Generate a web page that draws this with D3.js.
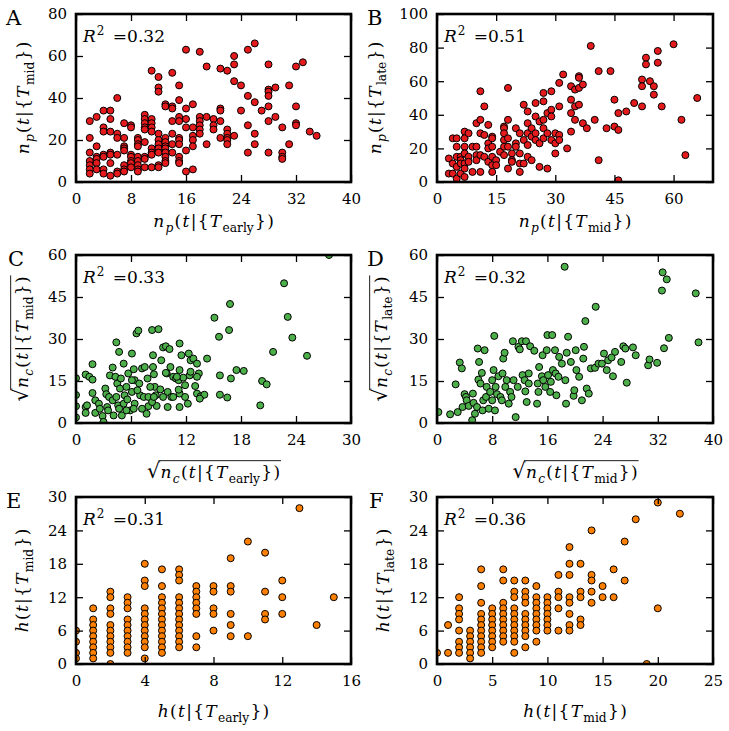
<!DOCTYPE html>
<html>
<head>
<meta charset="utf-8">
<style>
html, body { margin: 0; padding: 0; background: #fff; }
svg { display: block; }
text { font-family: "DejaVu Serif", serif; fill: #000; }
</style>
</head>
<body>
<svg width="729" height="731"></svg>
<script src="https://cdnjs.cloudflare.com/ajax/libs/d3/7.8.5/d3.min.js"></script>
<script>
// ---- data: [x, y] pairs ----
var ptsA = [
  [2,29],[2,21],[2,14],[2,10],[2,8],[2,6],[2,4],
  [3,31],[3,17],[3,12],[3,11],[3,9],[3,6],
  [4,34],[4,26],[4,24],[4,13],[4,12],[4,6],[4,4],
  [5,34],[5,30],[5,24],[5,14],[5,13],[5,9],[5,3],
  [6,40],[6,23],[6,21],[6,13],[6,5],[6,4],
  [7,28],[7,21],[7,17],[7,16],[7,15],[7,8],[7,6],[7,5],
  [8,27],[8,26],[8,13],[8,12],[8,10],[8,9],[8,7],
  [9,21],[9,20],[9,18],[9,17],[9,12],[9,10],[9,8],[9,6],[9,5],
  [10,32],[10,30],[10,28],[10,26],[10,25],[10,19],[10,12],[10,11],[10,7],
  [11,53],[11,30],[11,28],[11,26],[11,24],[11,16],[11,14],[11,13],[11,7],
  [12,50],[12,45],[12,43],[12,23],[12,20],[12,18],[12,16],[12,14],[12,8],[12,7],
  [13,37],[13,36],[13,21],[13,19],[13,17],[13,16],[13,14],[13,12],[13,10],[13,9],
  [14,52],[14,36],[14,35],[14,29],[14,23],[14,18],[14,14],
  [15,46],[15,39],[15,31],[15,29],[15,21],[15,20],[15,18],[15,12],[15,10],[15,9],
  [16,63],[16,35],[16,30],[16,26],[16,15],[16,5],
  [17,37],[17,26],[17,22],[17,20],[17,17],[17,6],
  [18,62],[18,31],[18,29],[18,27],[18,25],[18,23],
  [19,55],[19,31],[19,18],
  [20,30],[20,27],[20,25],
  [21,54],[21,35],[21,34],[21,29],[21,21],
  [22,53],[22,25],[22,23],[22,21],[22,20],[22,18],
  [23,60],[23,56],[23,48],[23,22],
  [24,46],[24,34],
  [25,63],[25,41],[25,27],[25,14],
  [26,66],[26,38],[26,23],[26,18],
  [27,34],
  [28,56],[28,44],[28,43],[28,41],[28,36],[28,29],[28,14],
  [29,45],[29,31],
  [30,26],[30,14],[30,12],[30,11],
  [31,46],[31,18],
  [32,55],[32,36],[32,28],[32,27],
  [33,57],[34,24],[35,22]
];

var ptsB = [
  [3,14],[3,5],[4,26],[4,11],[4,5],[5,26],[5,21],[5,15],[5,9],[5,2],
  [6,15],[6,13],[6,5],[6,11],[7,30],[7,26],[7,21],[7,17],[7,11],[7,8],[7,3],
  [8,29],[8,15],[8,12],[9,21],[9,6],[10,35],[10,21],[10,16],[10,13],
  [11,54],[11,37],[11,29],[11,16],[11,6],[12,45],[12,28],[12,15],
  [13,34],[13,23],[13,20],[13,12],[14,27],[14,26],[14,21],[14,15],[14,10],[14,6],
  [15,13],[15,10],[16,18],[17,33],[17,32],[17,29],[17,25],[17,21],[17,16],
  [18,56],[18,37],[18,26],[18,21],[18,8],[19,17],[19,13],[19,12],
  [20,32],[20,23],[20,21],[21,29],[21,17],[21,11],[21,6],
  [22,46],[22,25],[22,11],[23,42],[23,35],[23,29],[23,22],[23,15],
  [24,32],[24,27],[24,13],[25,47],[25,39],[25,29],[25,25],
  [26,36],[26,23],[26,9],[27,53],[27,48],[27,37],[27,32],[27,26],
  [28,41],[28,29],[28,8],[29,54],[29,43],[29,39],[29,25],
  [30,29],[30,23],[30,17],[31,59],[31,45],[31,28],[31,25],[32,64],[33,20],
  [34,57],[34,49],[34,41],[34,30],[35,55],[35,45],[35,37],
  [36,63],[36,62],[36,56],[36,46],[37,58],[37,35],[38,32],[39,81],[40,37],
  [41,66],[41,13],[43,32],[44,66],[45,49],[45,33],[46,31],[46,1],[46,41],
  [48,42],[50,47],[52,61],[52,57],[52,45],[53,74],[53,70],[54,60],
  [55,57],[55,52],[56,78],[56,71],[57,45],[60,82],[62,37],[63,16],[66,50]
];

var ptsC = [
  [0,16],[0,10],[0,6],[0,2],[1.05,17.3],[1.45,16.5],[1.8,21],[1.8,15.5],[1.05,5.7],[1.05,3.6],
  [1.8,10.7],[2.1,8.1],[2.1,3.6],[2.5,6.9],[2.9,2.5],[3,0.4],[3.2,12.3],[3.3,10.3],[3.4,5.7],
  [3.6,9.3],[3.7,17],[4,19.8],[4,8.1],[4.1,2.7],[4.3,16.5],[4.4,28.8],[4.5,14.1],[4.6,6.3],
  [4.7,25.4],[4.8,12.3],[4.9,15.9],[5,2.7],[5.2,21.2],[5.2,6.9],[5.3,9.9],[5.5,12.9],[5.7,17.7],
  [5.9,4.5],[6.1,24.8],[6.1,11.1],[6.3,19.2],[6.4,6.9],[6.4,15.3],[6.6,32],[6.8,33],[6.9,14.1],
  [7,9.9],[7.2,19.5],[7.4,9.3],[7.5,20],[7.7,3.3],[7.8,15.9],[7.9,6],[8.3,33.2],[8.4,24.2],
  [8.4,20],[8.5,17.4],[8.6,12.9],[8.7,9.9],[8.8,6.1],[9,33.5],[9.2,12],[9.3,22.4],[9.5,27],
  [9.8,27.4],[9.9,17.7],[10,11.1],[10,5.7],[10.2,26.4],[10.3,20],[10.4,9.3],[10.6,16.5],
  [10.9,15.9],[11.2,15.3],[11.3,28.4],[11.3,18.9],[11.3,10.5],[11.3,5.7],[11.5,24.2],[11.7,16.2],
  [11.9,9.3],[12.2,6.9],[12.3,24.8],[12.4,17],[12.5,22.4],[12.8,23],[13,13.2],[13.2,21.2],
  [13.2,10.5],[13.4,17.7],[13.6,9.5],[14,10.1],[14.3,23],[15.1,37.6],[15.6,30.8],[15.7,17],
  [15.7,10.1],[16.7,33.2],[16.8,42.5],[16.9,15.9],[16.5,9.1],[17.5,18.9],[18.3,18.6],[20.1,6.3],
  [20.3,15],[20.8,13.8],[21.5,25.4],[22.7,49.9],[23.1,37.9],[23.6,30.5],[25.2,24],[27.6,60],
  [1.2,6.3],[2.6,5.1],[3.5,4.5],[4.4,9.3],[4.7,5.1],[5.5,4.5],[5.6,8.4],[6.1,15.3],[6.3,5.1],
  [6.7,11.7],[7.2,5.1],[7.9,9.3],[8.1,12.9],[8.3,7.5],[8.5,9.3],[9.5,9.3],[9.8,17.9],[10.6,9.3],
  [11,16.5],[11.2,11.9],[11.9,13.5],[12.5,18.3],[13.5,8.7],[13.2,16.5]
];

var ptsD = [
  [0.2,3.9],[1.9,3.1],[2.7,13.8],[3,3.9],[3.3,21.6],[3.6,19.5],[3.7,5.7],[4,10.3],[4.2,9.3],
  [4.3,8.1],[4.6,6.1],[5.1,1],[5.2,10.5],[5.3,7.2],[5.5,3.3],[5.8,5.7],[5.9,26.6],[6,15.5],
  [6.1,21.8],[6.3,14.1],[6.5,17.9],[6.6,4.5],[6.7,8.1],[6.9,26],[7.1,9.3],[7.2,12.9],[7.5,5.1],
  [7.7,11.1],[8,15.3],[8,8.1],[8.2,18.9],[8.3,31.1],[8.4,4.5],[8.5,12.9],[8.7,10.3],[8.9,16.7],
  [9.2,9.3],[9.4,8.1],[9.5,17.7],[9.6,23],[9.8,25.1],[9.9,12.9],[10.1,15.3],[10.4,6.9],[10.6,11.1],
  [10.8,9.3],[11,29.2],[11.1,15.3],[11.4,2.1],[11.7,12.9],[11.8,27.2],[12,26.3],[12.3,29.2],
  [12.4,17.1],[12.7,15.3],[12.8,11.3],[12.9,29.2],[13,7.5],[13.3,17.7],[13.3,14.1],[13.5,27.4],
  [14.1,25.8],[14.5,6.9],[14.6,14.1],[14.7,11.1],[14.8,20],[15.2,16.7],[15.3,24.2],[15.4,15.3],
  [15.7,12.9],[15.9,26],[16,31.4],[16.1,17.1],[16.4,11.1],[16.5,14.7],[16.7,31.4],[16.8,18.9],
  [17.1,26],[17.2,17.7],[17.3,9.9],[17.6,16.5],[17.7,23.6],[18.1,21.2],[18.5,55.8],[18.6,15.3],
  [18.7,6.9],[18.8,25.1],[19,30.8],[19.4,21.8],[19.8,9.7],[19.9,11.7],[20.1,26],[20.2,18.9],
  [20.6,16.5],[21,8.1],[21.2,23],[21.3,27.2],[21.5,36.4],[21.7,12.3],[22,10.5],[22.3,19.5],
  [22.9,19.7],[23,41.5],[23.4,21.2],[23.9,21.2],[24.2,24.8],[24.6,18.9],[24.8,22.4],[25.3,23.4],
  [25.5,16.7],[25.8,25.4],[26.7,21.8],[27,27.4],[27.3,26.6],[27.5,14.4],[28.4,27],[28.8,24.2],
  [30.6,20.6],[30.8,22.7],[31.9,21.5],[32.6,47.3],[32.7,53.8],[32.9,26.7],[33.3,51.3],[33.6,30.4],
  [37.5,46.3],[37.9,28.8]
];

var ptsE = [
  [0,6],[0,4],[0,2],[0,1],
  [1,10],[1,8],[1,7],[1,6],[1,5],[1,4],[1,3],[1,2],[1,1],
  [2,13],[2,12],[2,10],[2,9],[2,7],[2,6],[2,5],[2,4],[2,3],[2,2],[2,0],
  [3,12],[3,11],[3,10],[3,8],[3,7],[3,6],[3,5],[3,4],[3,3],[3,2],
  [4,18],[4,15],[4,14],[4,10],[4,9],[4,8],[4,7],[4,6],[4,5],[4,4],[4,3],[4,1],
  [5,17],[5,14],[5,12],[5,11],[5,10],[5,9],[5,8],[5,7],[5,6],[5,5],[5,4],[5,3],[5,2],
  [6,17],[6,16],[6,15],[6,12],[6,11],[6,10],[6,9],[6,8],[6,7],[6,6],[6,5],[6,4],[6,3],
  [7,14],[7,13],[7,12],[7,11],[7,10],[7,9],[7,5],[7,3],
  [8,14],[8,13],[8,10],[8,9],[8,6],
  [9,19],[9,14],[9,13],[9,9],[9,7],[9,5],
  [10,22],[10,5],
  [11,20],[11,13],[11,9],[11,8],
  [12,15],[12,12],[12,9],
  [13,28],[14,7],[15,12]
];

var ptsF = [
  [0,2],[1,7],[1,2],
  [2,12],[2,10],[2,9],[2,8],[2,6],[2,4],[2,3],[2,2],
  [3,6],[3,5],[3,4],[3,3],[3,2],[3,1],
  [4,17],[4,14],[4,11],[4,9],[4,8],[4,7],[4,6],[4,5],[4,4],[4,3],[4,2],
  [5,10],[5,9],[5,8],[5,7],[5,6],[5,5],[5,4],[5,3],
  [6,17],[6,15],[6,11],[6,10],[6,9],[6,8],[6,7],[6,6],[6,5],[6,4],
  [7,15],[7,13],[7,12],[7,10],[7,9],[7,8],[7,7],[7,6],[7,5],[7,4],[7,2],
  [8,15],[8,13],[8,12],[8,11],[8,9],[8,8],[8,7],[8,6],[8,5],[8,3],
  [9,14],[9,12],[9,11],[9,10],[9,9],[9,8],[9,7],[9,6],[9,4],
  [10,12],[10,11],[10,10],[10,9],[10,8],[10,7],[10,6],
  [11,16],[11,13],[11,12],[11,10],[11,6],
  [12,21],[12,18],[12,16],[12,12],[12,11],[12,9],[12,7],[12,6],
  [13,18],[13,13],[13,12],[13,8],[13,7],
  [14,24],[14,16],[14,15],[14,13],[14,11],
  [15,14],[15,12],[16,17],[16,12],[17,22],[17,15],[18,26],[19,0],[20,29],[20,10],[22,27]
];

var r2Values = ["0.32", "0.51", "0.33", "0.32", "0.31", "0.36"];

var ticksX = {A:[0,8,16,24,32,40], B:[0,15,30,45,60], C:[0,6,12,18,24,30],
              D:[0,8,16,24,32,40], E:[0,4,8,12,16], F:[0,5,10,15,20,25]};
var ticksY = {A:[0,20,40,60,80], B:[0,20,40,60,80,100], C:[0,15,30,45,60],
              D:[0,15,30,45,60], E:[0,6,12,18,24,30], F:[0,6,12,18,24,30]};
var domX = {A:[0,40], B:[0,70], C:[0,30], D:[0,40], E:[0,16], F:[0,25]};
var domY = {A:[0,80], B:[0,100], C:[0,60], D:[0,60], E:[0,30], F:[0,30]};

// label pieces: [text, style]  i = italic, r = roman, si/sr = subscript
function npLab(s) { return [["n","i"],["p","si"],["(","r"],["t","i"],["|","r"],["{","r"],["T","i"],[s,"sr"],["}","r"],[")","r"]]; }
function ncLab(s) { return [["n","i"],["c","si"],["(","r"],["t","i"],["|","r"],["{","r"],["T","i"],[s,"sr"],["}","r"],[")","r"]]; }
function hLab(s)  { return [["h","i"],["(","r"],["t","i"],["|","r"],["{","r"],["T","i"],[s,"sr"],["}","r"],[")","r"]]; }

var red = "#e41a1c", green = "#4daf4a", orange = "#ff7f00";

var panels = [
  {k:"A", pts:ptsA, col:red,    box:[76,14,275,168],  lx:6,   ly:25,  yl:29,  xl:227, xlab:npLab("early"), ylab:npLab("mid"),  sq:false},
  {k:"B", pts:ptsB, col:red,    box:[437,14,276,168], lx:367, ly:25,  yl:381, xl:227, xlab:npLab("mid"),   ylab:npLab("late"), sq:false},
  {k:"C", pts:ptsC, col:green,  box:[76,255,275,168], lx:8,   ly:266, yl:28,  xl:478, xlab:ncLab("early"), ylab:ncLab("mid"),  sq:true},
  {k:"D", pts:ptsD, col:green,  box:[437,255,276,168],lx:367, ly:266, yl:387, xl:478, xlab:ncLab("mid"),   ylab:ncLab("late"), sq:true},
  {k:"E", pts:ptsE, col:orange, box:[76,497,275,167], lx:6,   ly:508, yl:28,  xl:717, xlab:hLab("early"),  ylab:hLab("mid"),   sq:false},
  {k:"F", pts:ptsF, col:orange, box:[437,497,276,167],lx:369, ly:508, yl:389, xl:717, xlab:hLab("mid"),    ylab:hLab("late"),  sq:false}
];

var svg = d3.select("svg");
var defs = svg.append("defs");

function mathLabel(g, segs, fs, sq) {
  var t = g.append("text").attr("text-anchor", "middle").style("font-size", fs + "px");
  var shift = 0;
  if (sq) t.append("tspan").text("\u221A").style("font-size", (fs * 1.2) + "px");
  segs.forEach(function(s, j) {
    var sub = s[1].charAt(0) === "s";
    var target = sub ? fs * 0.32 : 0;
    var ts = t.append("tspan").text(s[0])
      .style("font-style", s[1].indexOf("i") >= 0 ? "italic" : "normal")
      .attr("dy", target - shift)
      .attr("dx", j > 0 ? 1.3 : (sq ? 0.5 : 0));
    if (sub) ts.style("font-size", (fs * 0.72) + "px");
    shift = target;
  });
  if (sq) {
    var total = t.node().getComputedTextLength() + 1.3 * (segs.length - 1) + 0.5;
    var rw = t.node().getSubStringLength(0, 1);
    var x0 = -total / 2 + rw - 1.5, x1 = total / 2 + 1;
    g.append("line").attr("x1", x0).attr("x2", x1)
      .attr("y1", -fs * 1.02).attr("y2", -fs * 1.02)
      .attr("stroke", "#000").attr("stroke-width", 0.9);
  }
  return t;
}

panels.forEach(function(p, i) {
  var bx = p.box[0], by = p.box[1], w = p.box[2], h = p.box[3];
  var x = d3.scaleLinear().domain(domX[p.k]).range([0, w]);
  var y = d3.scaleLinear().domain(domY[p.k]).range([h, 0]);
  var g = svg.append("g").attr("transform", "translate(" + bx + "," + by + ")");

  defs.append("clipPath").attr("id", "clip" + p.k)
    .append("rect").attr("width", w).attr("height", h);

  g.append("g").attr("clip-path", "url(#clip" + p.k + ")")
    .selectAll("circle").data(p.pts).enter().append("circle")
      .attr("cx", function(d) { return x(d[0]); })
      .attr("cy", function(d) { return y(d[1]); })
      .attr("r", 3.5)
      .attr("fill", p.col)
      .attr("stroke", "#000")
      .attr("stroke-width", 1);

  var tk = 7;
  var axB = g.append("g").attr("transform", "translate(0," + h + ")")
    .call(d3.axisBottom(x).tickValues(ticksX[p.k]).tickSizeInner(-tk).tickSizeOuter(0).tickPadding(11));
  var axT = g.append("g")
    .call(d3.axisTop(x).tickValues(ticksX[p.k]).tickSizeInner(-tk).tickSizeOuter(0).tickFormat(""));
  var axL = g.append("g")
    .call(d3.axisLeft(y).tickValues(ticksY[p.k]).tickSizeInner(-tk).tickSizeOuter(0).tickPadding(9));
  var axR = g.append("g").attr("transform", "translate(" + w + ",0)")
    .call(d3.axisRight(y).tickValues(ticksY[p.k]).tickSizeInner(-tk).tickSizeOuter(0).tickFormat(""));
  [axB, axT, axL, axR].forEach(function(a) {
    a.select(".domain").remove();
    a.selectAll("line").attr("stroke", "#000").attr("stroke-width", 1.3);
    a.selectAll("text").attr("font-family", "DejaVu Serif").attr("font-size", 15).attr("fill", "#000");
  });

  g.append("rect").attr("width", w).attr("height", h)
    .attr("fill", "none").attr("stroke", "#000").attr("stroke-width", 2.6);

  // R^2 annotation
  var rt = g.append("text").attr("x", 7).attr("y", 28).style("font-size", "17px");
  rt.append("tspan").text("R").style("font-style", "italic");
  rt.append("tspan").text("2").style("font-size", "12px").attr("dy", -7).attr("dx", 1);
  rt.append("tspan").text(" =" + r2Values[i]).attr("dy", 7).attr("dx", 3);

  // panel letter
  svg.append("text").attr("x", p.lx).attr("y", p.ly).style("font-size", "21px").text(p.k);

  // axis labels
  var xg = svg.append("g").attr("transform", "translate(" + (bx + w / 2) + "," + p.xl + ")");
  mathLabel(xg, p.xlab, 17, p.sq);
  var yg = svg.append("g").attr("transform", "translate(" + p.yl + "," + (by + h / 2) + ") rotate(-90)");
  mathLabel(yg, p.ylab, 17, p.sq);
});
</script>
</body>
</html>
